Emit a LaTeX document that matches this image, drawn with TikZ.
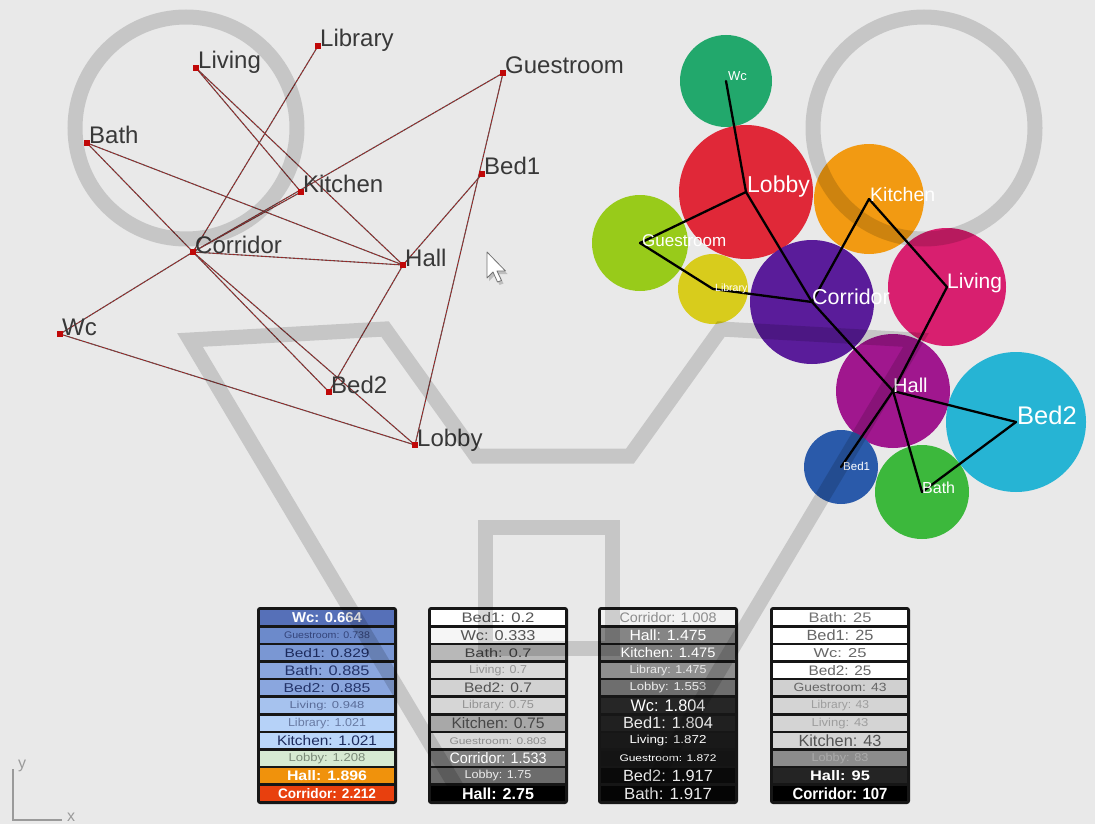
\documentclass[tikz,border=0pt]{standalone}
\usepackage{fontspec}
\setmainfont{Liberation Sans}
\usepackage{graphicx}
\pgfdeclarelayer{back}
\pgfdeclarelayer{links}
\pgfdeclarelayer{front}
\pgfsetlayers{back,links,main,front}

% page and graph colours
\definecolor{paper}{HTML}{E9E9E9}
\definecolor{nodered}{HTML}{C00808}
\definecolor{labelgray}{HTML}{383838}
\definecolor{linkgray}{HTML}{6A5050}
\definecolor{linkred}{HTML}{B01818}
\definecolor{framegray}{HTML}{161616}
\definecolor{axisgray}{HTML}{9A9A9A}
% bubble colours
\definecolor{cWc}{HTML}{22A86C}
\definecolor{cLobby}{HTML}{E02838}
\definecolor{cKitchen}{HTML}{F29A12}
\definecolor{cGuest}{HTML}{98CB1A}
\definecolor{cLibrary}{HTML}{D8CC1C}
\definecolor{cCorridor}{HTML}{5A1C9A}
\definecolor{cLiving}{HTML}{D81F6F}
\definecolor{cHall}{HTML}{A0178E}
\definecolor{cBedB}{HTML}{26B4D4}
\definecolor{cBedA}{HTML}{2A5AAA}
\definecolor{cBath}{HTML}{3CB83C}
% first table (blue to red scale)
\definecolor{taWc}{HTML}{5670B8}
\definecolor{taGuest}{HTML}{6C8ACB}
\definecolor{taBedA}{HTML}{7A97D3}
\definecolor{taBath}{HTML}{8AA6DE}
\definecolor{taLiving}{HTML}{A6C2EE}
\definecolor{taLibrary}{HTML}{B6D2F8}
\definecolor{taKitchen}{HTML}{BAD6FA}
\definecolor{taLobby}{HTML}{D6EAD2}
\definecolor{taHall}{HTML}{F0920C}
\definecolor{taCorridor}{HTML}{E8400E}
\definecolor{txNavy}{HTML}{1C2A5C}
\definecolor{txBlue}{HTML}{24346A}
\definecolor{txSlate}{HTML}{34447A}
\definecolor{txPale}{HTML}{5A6C98}
\definecolor{txPaler}{HTML}{6A7CA4}
\definecolor{txSage}{HTML}{7A8A78}

% one coloured row of a ranking table:
% name, table left edge, row number, fill, text colour, text width, text height, text
\newcommand\cellrow[8]{%
  \node[cell, fill=#4, text=#5] (#1) at ({#2+70},{617.5+17.6*(#3-1)})
    {\resizebox{#6pt}{#7pt}{#8}};}

\begin{document}
\begin{tikzpicture}[x=1pt,y=-1pt,
  room/.style={rectangle, fill=nodered, inner sep=0pt, minimum size=6.5pt},
  roomlabel/.style={anchor=base west, inner sep=0pt, text=labelgray,
    font=\fontsize{24}{28}\selectfont},
  link/.style={draw=linkgray, line width=1.1pt,
    postaction={draw=linkred, line width=0.55pt, dash pattern=on 2.2pt off 1.8pt}},
  bubble/.style={circle, inner sep=0pt, draw=none},
  bubblelabel/.style={anchor=base west, inner sep=0pt, text=white},
  adjacency/.style={draw=black, line width=2.3pt, line join=round, line cap=round},
  cell/.style={rectangle, inner sep=0pt, minimum width=134pt, minimum height=15pt},
  tableframe/.style={fill=framegray, rounded corners=3pt},
  watermark/.style={draw=black, draw opacity=0.15, line width=15pt},
  axisline/.style={draw=axisgray, line width=1.6pt},
  axislabel/.style={text=axisgray, inner sep=0pt, font=\fontsize{16}{18}\selectfont},
]
\begin{pgfonlayer}{back}
  \fill[paper] (0,0) rectangle (1095,824);
\end{pgfonlayer}
\useasboundingbox (0,0) rectangle (1095,824);

% ---------------- room graph (left) ----------------
\node[room] (lLiving)    at (196,68)  {};
\node[room] (lLibrary)   at (318,46)  {};
\node[room] (lGuestroom) at (503,73)  {};
\node[room] (lBath)      at (87,143)  {};
\node[room] (lKitchen)   at (301,192) {};
\node[room] (lBed1)      at (482,174) {};
\node[room] (lCorridor)  at (193,252) {};
\node[room] (lHall)      at (403,265) {};
\node[room] (lWc)        at (60,334)  {};
\node[room] (lBed2)      at (329,392) {};
\node[room] (lLobby)     at (415,445) {};

\node[roomlabel] (tLiving)    at ([shift={(2,1)}]lLiving.center)    {Living};
\node[roomlabel] (tLibrary)   at ([shift={(2,1)}]lLibrary.center)   {Library};
\node[roomlabel] (tGuestroom) at ([shift={(2,1)}]lGuestroom.center) {Guestroom};
\node[roomlabel] (tBath)      at ([shift={(2,1)}]lBath.center)      {Bath};
\node[roomlabel] (tKitchen)   at ([shift={(2,1)}]lKitchen.center)   {Kitchen};
\node[roomlabel] (tBed1)      at ([shift={(2,1)}]lBed1.center)      {Bed1};
\node[roomlabel] (tCorridor)  at ([shift={(2,1)}]lCorridor.center)  {Corridor};
\node[roomlabel] (tHall)      at ([shift={(2,1)}]lHall.center)      {Hall};
\node[roomlabel] (tWc)        at ([shift={(2,1)}]lWc.center)        {Wc};
\node[roomlabel] (tBed2)      at ([shift={(2,1)}]lBed2.center)      {Bed2};
\node[roomlabel] (tLobby)     at ([shift={(2,1)}]lLobby.center)     {Lobby};

\begin{pgfonlayer}{links}
  \draw[link] (lLibrary.center)   -- (lCorridor.center);
  \draw[link] (lLiving.center)    -- (lKitchen.center);
  \draw[link] (lLiving.center)    -- (lHall.center);
  \draw[link] (lGuestroom.center) -- (lCorridor.center);
  \draw[link] (lKitchen.center)   -- (lCorridor.center);
  \draw[link] (lBath.center)      -- (lHall.center);
  \draw[link] (lBath.center)      -- (lBed2.center);
  \draw[link] (lCorridor.center)  -- (lHall.center);
  \draw[link] (lCorridor.center)  -- (lWc.center);
  \draw[link] (lCorridor.center)  -- (lLobby.center);
  \draw[link] (lWc.center)        -- (lLobby.center);
  \draw[link] (lHall.center)      -- (lBed1.center);
  \draw[link] (lHall.center)      -- (lBed2.center);
  \draw[link] (lGuestroom.center) -- (lLobby.center);
\end{pgfonlayer}

% mouse pointer
\fill[black, opacity=0.18] (489,255) -- ++(0,26) -- ++(6,-6) -- ++(4.5,10) -- ++(4,-1.5)
  -- ++(-4.5,-9.5) -- ++(8.5,0) -- cycle;
\draw[fill=white, draw=black!55, line width=0.8pt, line join=round]
  (487,252) -- ++(0,26) -- ++(6,-6) -- ++(4.5,10) -- ++(4,-1.5)
  -- ++(-4.5,-9.5) -- ++(8.5,0) -- cycle;

% ---------------- bubble diagram (right) ----------------
\node[bubble, fill=cWc,       minimum size=92pt]  (bWc)        at (726,81)  {};
\node[bubble, fill=cGuest,    minimum size=96pt]  (bGuestroom) at (640,243) {};
\node[bubble, fill=cLobby,    minimum size=134pt] (bLobby)     at (746,192) {};
\node[bubble, fill=cKitchen,  minimum size=110pt] (bKitchen)   at (869,199) {};
\node[bubble, fill=cLibrary,  minimum size=70pt]  (bLibrary)   at (713,289) {};
\node[bubble, fill=cCorridor, minimum size=124pt] (bCorridor)  at (812,302) {};
\node[bubble, fill=cLiving,   minimum size=118pt] (bLiving)    at (947,287) {};
\node[bubble, fill=cHall,     minimum size=114pt] (bHall)      at (893,391) {};
\node[bubble, fill=cBedB,     minimum size=140pt] (bBed2)      at (1016,422) {};
\node[bubble, fill=cBedA,     minimum size=74pt]  (bBed1)      at (841,467) {};
\node[bubble, fill=cBath,     minimum size=94pt]  (bBath)      at (922,492) {};

\draw[adjacency] (bWc.center) -- (bLobby.center);
\draw[adjacency] (bLobby.center) -- (bGuestroom.center);
\draw[adjacency] (bLobby.center) -- (bCorridor.center);
\draw[adjacency] (bGuestroom.center) -- (bLibrary.center);
\draw[adjacency] (bLibrary.center) -- (bCorridor.center);
\draw[adjacency] (bCorridor.center) -- (bKitchen.center);
\draw[adjacency] (bKitchen.center) -- (bLiving.center);
\draw[adjacency] (bLiving.center) -- (bHall.center);
\draw[adjacency] (bCorridor.center) -- (bHall.center);
\draw[adjacency] (bHall.center) -- (bBed1.center);
\draw[adjacency] (bHall.center) -- (bBath.center);
\draw[adjacency] (bHall.center) -- (bBed2.center);
\draw[adjacency] (bBed2.center) -- (bBath.center);

\node[bubblelabel, font=\fontsize{13}{15}\selectfont]   (sWc)        at ([shift={(2,0)}]bWc.center)        {Wc};
\node[bubblelabel, font=\fontsize{23}{26}\selectfont]   (sLobby)     at ([shift={(1,1)}]bLobby.center)     {Lobby};
\node[bubblelabel, font=\fontsize{19.5}{22}\selectfont] (sKitchen)   at ([shift={(1,2)}]bKitchen.center)   {Kitchen};
\node[bubblelabel, font=\fontsize{17}{19}\selectfont]   (sGuestroom) at ([shift={(2,3)}]bGuestroom.center) {Guestroom};
\node[bubblelabel, font=\fontsize{10.5}{12}\selectfont] (sLibrary)   at ([shift={(2,2)}]bLibrary.center)   {Library};
\node[bubblelabel, font=\fontsize{21.5}{24}\selectfont] (sCorridor)  at ([shift={(0,2)}]bCorridor.center)  {Corridor};
\node[bubblelabel, font=\fontsize{21}{24}\selectfont]   (sLiving)    at ([shift={(0,1)}]bLiving.center)    {Living};
\node[bubblelabel, font=\fontsize{20}{23}\selectfont]   (sHall)      at ([shift={(0,1)}]bHall.center)      {Hall};
\node[bubblelabel, font=\fontsize{25.5}{28}\selectfont] (sBed2)      at ([shift={(1,2)}]bBed2.center)      {Bed2};
\node[bubblelabel, font=\fontsize{11.5}{13}\selectfont] (sBed1)      at ([shift={(2,3)}]bBed1.center)      {Bed1};
\node[bubblelabel, font=\fontsize{16}{18}\selectfont]   (sBath)      at ([shift={(0,1)}]bBath.center)      {Bath};

% ---------------- ranking tables ----------------
\fill[tableframe] (257,607) rectangle (397,804);
\fill[tableframe] (428,607) rectangle (568,804);
\fill[tableframe] (598,607) rectangle (738,804);
\fill[tableframe] (770,607) rectangle (910,804);

\cellrow{ta1}{257}{1}{taWc}{white}{70}{10}{\bfseries Wc: 0.664}
\cellrow{ta2}{257}{2}{taGuest}{txSlate}{86}{6.7}{Guestroom: 0.738}
\cellrow{ta3}{257}{3}{taBedA}{txNavy}{85}{9}{Bed1: 0.829}
\cellrow{ta4}{257}{4}{taBath}{txBlue}{85}{10}{Bath: 0.885}
\cellrow{ta5}{257}{5}{taBath}{txBlue}{87}{9.3}{Bed2: 0.885}
\cellrow{ta6}{257}{6}{taLiving}{txPale}{75}{7.3}{Living: 0.948}
\cellrow{ta7}{257}{7}{taLibrary}{txPaler}{78}{8.3}{Library: 1.021}
\cellrow{ta8}{257}{8}{taKitchen}{txNavy}{100}{10}{Kitchen: 1.021}
\cellrow{ta9}{257}{9}{taLobby}{txSage}{77}{8.3}{Lobby: 1.208}
\cellrow{ta10}{257}{10}{taHall}{white}{80}{10}{\bfseries Hall: 1.896}
\cellrow{ta11}{257}{11}{taCorridor}{white}{98}{10}{\bfseries Corridor: 2.212}

\cellrow{tb1}{428}{1}{white}{black!67}{73}{10}{Bed1: 0.2}
\cellrow{tb2}{428}{2}{black!3.5}{black!67}{75}{10}{Wc: 0.333}
\cellrow{tb3}{428}{3}{black!28}{black!75}{67}{9}{Bath: 0.7}
\cellrow{tb4}{428}{4}{black!14.5}{black!42}{58}{8.3}{Living: 0.7}
\cellrow{tb5}{428}{5}{black!17.6}{black!68}{68}{10}{Bed2: 0.7}
\cellrow{tb6}{428}{6}{black!16}{black!42}{72}{8.3}{Library: 0.75}
\cellrow{tb7}{428}{7}{black!34}{black!72}{93}{11}{Kitchen: 0.75}
\cellrow{tb8}{428}{8}{black!15.3}{black!45}{97}{6.7}{Guestroom: 0.803}
\cellrow{tb9}{428}{9}{black!50}{white}{97}{11}{Corridor: 1.533}
\cellrow{tb10}{428}{10}{black!57.6}{white!92!black}{67}{8.3}{Lobby: 1.75}
\cellrow{tb11}{428}{11}{black}{white}{72}{11.5}{\bfseries Hall: 2.75}

\cellrow{tc1}{598}{1}{black!5}{black!45}{97}{10}{Corridor: 1.008}
\cellrow{tc2}{598}{2}{black!48}{white}{77}{10.7}{Hall: 1.475}
\cellrow{tc3}{598}{3}{black!51}{white}{95}{10}{Kitchen: 1.475}
\cellrow{tc4}{598}{4}{black!44}{white!92!black}{77}{8.3}{Library: 1.475}
\cellrow{tc5}{598}{5}{black!57}{white!92!black}{77}{8.3}{Lobby: 1.553}
\cellrow{tc6}{598}{6}{black!85}{white}{75}{11.7}{Wc: 1.804}
\cellrow{tc7}{598}{7}{black!87.5}{white!92!black}{90}{11.7}{Bed1: 1.804}
\cellrow{tc8}{598}{8}{black!90}{white}{77}{8.3}{Living: 1.872}
\cellrow{tc9}{598}{9}{black!92}{white}{97}{6.7}{Guestroom: 1.872}
\cellrow{tc10}{598}{10}{black!96}{white!92!black}{90}{11.7}{Bed2: 1.917}
\cellrow{tc11}{598}{11}{black!98}{white!92!black}{88}{11.7}{Bath: 1.917}

\cellrow{td1}{770}{1}{white}{black!55}{63}{10}{Bath: 25}
\cellrow{td2}{770}{2}{white}{black!60}{67}{10.7}{Bed1: 25}
\cellrow{td3}{770}{3}{white}{black!60}{53}{9}{Wc: 25}
\cellrow{td4}{770}{4}{white}{black!60}{63}{10}{Bed2: 25}
\cellrow{td5}{770}{5}{black!18.5}{black!60}{93}{8.3}{Guestroom: 43}
\cellrow{td6}{770}{6}{black!17}{black!38}{58}{8.3}{Library: 43}
\cellrow{td7}{770}{7}{black!17}{black!38}{57}{8.3}{Living: 43}
\cellrow{td8}{770}{8}{black!17}{black!68}{83}{11.7}{Kitchen: 43}
\cellrow{td9}{770}{9}{black!45}{black!33}{57}{8.3}{Lobby: 83}
\cellrow{td10}{770}{10}{black!86}{white}{60}{10}{\bfseries Hall: 95}
\cellrow{td11}{770}{11}{black}{white}{95}{11.7}{\bfseries Corridor: 107}

% ---------------- axis glyph ----------------
\coordinate (axTop) at (13,769);
\coordinate (axOrigin) at (13,820);
\coordinate (axEnd) at (62,820);
\draw[axisline] (axTop) -- (axOrigin) -- (axEnd);
\node[axislabel] (axY) at (22,766) {y};
\node[axislabel] (axX) at (71,817) {x};

% ---------------- translucent logo outline ----------------
\begin{pgfonlayer}{front}
  \draw[watermark] (186,128) circle[radius=111pt];
  \draw[watermark] (924,128) circle[radius=111pt];
  \draw[watermark, line join=miter]
    (461,795) -- (190,340) -- (385,329) -- (476,456) -- (630,456)
    -- (721,329) -- (916,340) -- (645,795);
  \draw[watermark, line join=miter]
    (485,648) -- (485,527) -- (612,527) -- (612,648) -- cycle;
\end{pgfonlayer}
\end{tikzpicture}
\end{document}
